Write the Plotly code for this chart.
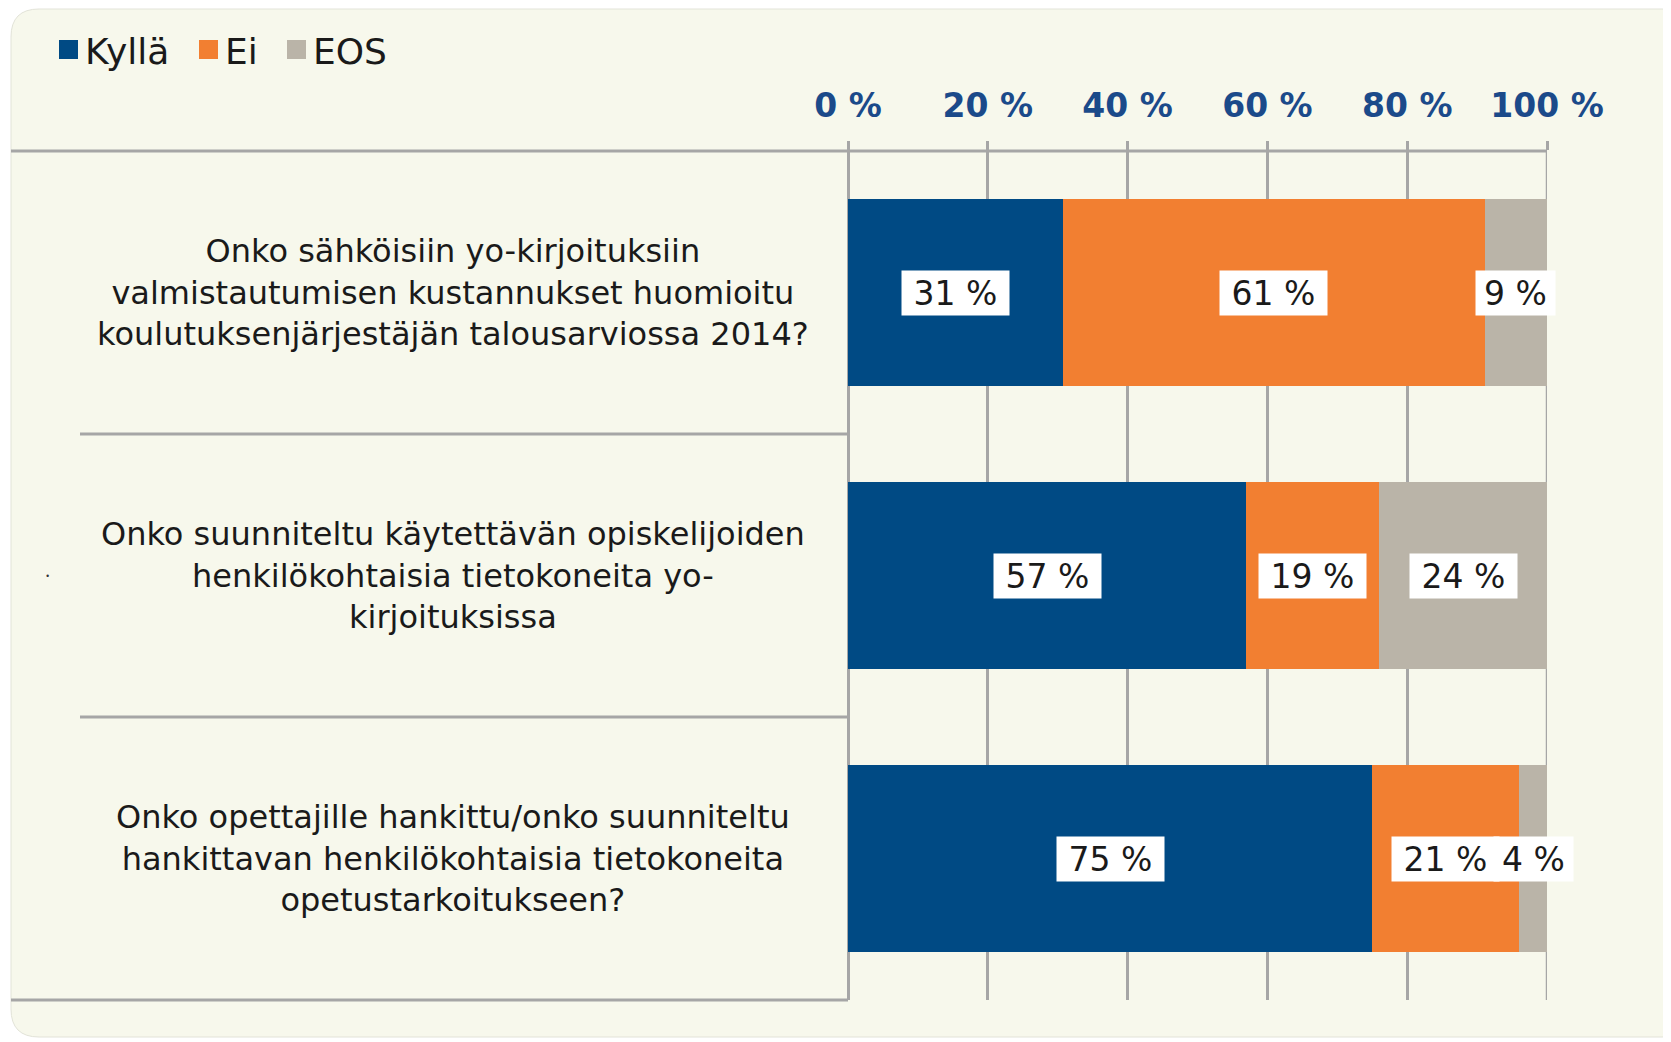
import plotly.graph_objects as go

# Survey answers, percent
questions = [
    "Onko sähköisiin yo-kirjoituksiin<br>valmistautumisen kustannukset huomioitu<br>koulutuksenjärjestäjän talousarviossa 2014?",
    "Onko suunniteltu käytettävän opiskelijoiden<br>henkilökohtaisia tietokoneita yo-<br>kirjoituksissa",
    "Onko opettajille hankittu/onko suunniteltu<br>hankittavan henkilökohtaisia tietokoneita<br>opetustarkoitukseen?",
]
kylla = [31, 57, 75]
ei = [61, 19, 21]
eos = [9, 24, 4]
series_names = ["Kyllä", "Ei", "EOS"]
colors = ["#004A84", "#F27F31", "#BAB4A8"]
tick_vals = [0, 20, 40, 60, 80, 100]

FONT = "Verdana, DejaVu Sans"
W_FIG, H_FIG = 1671, 1042
OFF = 8  # page body margin
# plot area in figure pixels
L, R, T, B = 840, 1539, 143, 992
PW, PH = R - L, B - T


def px_x(p):
    # p is a screen x position
    return (p - OFF - L) / PW


def px_y(p):
    return (B - (p - OFF)) / PH


series = [kylla, ei, eos]
fig = go.Figure()
for name, vals, col in zip(series_names, series, colors):
    fig.add_trace(go.Bar(
        y=list(range(len(questions))), x=vals, name=name, orientation="h",
        marker=dict(color=col, line=dict(width=0)), showlegend=False,
    ))

# value labels in white boxes, centred in each segment
annotations = []
for i in range(len(questions)):
    total = sum(s[i] for s in series)
    cum = 0
    for s in series:
        v = s[i]
        mid = (cum + v / 2) / total * 100
        cum += v
        txt = f"{v} %"
        annotations.append(dict(
            x=mid, y=i, xref="x", yref="y", text=txt, showarrow=False,
            font=dict(family=FONT, size=33, color="#1A1A1A"),
            bgcolor="white", width=28 * len(txt) - 11, height=38, borderpad=3,
        ))

# category labels in the left panel
for i, q in enumerate(questions):
    annotations.append(dict(
        x=px_x(453), y=i, xref="paper", yref="y", text=q, showarrow=False,
        align="center", xanchor="center", yanchor="middle",
        font=dict(family=FONT, size=32, color="#1A1A1A"),
    ))

# legend drawn by hand
shapes = []
leg_x = [59, 199, 287]
for name, col, lx in zip(series_names, colors, leg_x):
    shapes.append(dict(type="rect", xref="paper", yref="paper",
                       x0=px_x(lx), x1=px_x(lx + 19), y0=px_y(59), y1=px_y(40),
                       fillcolor=col, line=dict(width=0)))
    annotations.append(dict(
        x=px_x(lx + 24), y=px_y(51), xref="paper", yref="paper", text=name,
        showarrow=False, xanchor="left", yanchor="middle",
        font=dict(family=FONT, size=36, color="#1A1A1A"),
    ))

annotations.append(dict(x=px_x(43), y=1, xref="paper", yref="y", text="·",
                        showarrow=False, font=dict(size=20, color="#333")))

# rounded card background
x0, x1, yt, yb = px_x(11), px_x(1690), px_y(9), px_y(1037)
rx, ry = 28 / PW, 28 / PH
card = (f"M{x0+rx},{yt} L{x1-rx},{yt} Q{x1},{yt} {x1},{yt-ry} "
        f"L{x1},{yb+ry} Q{x1},{yb} {x1-rx},{yb} L{x0+rx},{yb} "
        f"Q{x0},{yb} {x0},{yb+ry} L{x0},{yt-ry} Q{x0},{yt} {x0+rx},{yt} Z")
shapes.insert(0, dict(type="path", path=card, xref="paper", yref="paper",
                      fillcolor="#F7F8EC", line=dict(color="#E2E3D8", width=1),
                      layer="below"))

line_col = "#A6A6A6"
# top line across, separators, bottom line, 100 % gridline
shapes.append(dict(type="line", xref="paper", yref="paper", x0=x0, x1=1, y0=1, y1=1,
                   line=dict(color=line_col, width=3)))
for yv in [0.5, 1.5]:
    shapes.append(dict(type="line", xref="paper", yref="y", x0=px_x(80), x1=0,
                       y0=yv, y1=yv, line=dict(color=line_col, width=3)))
shapes.append(dict(type="line", xref="paper", yref="paper", x0=x0, x1=0, y0=0, y1=0,
                   line=dict(color=line_col, width=3)))
shapes.append(dict(type="line", xref="x", yref="paper", x0=100, x1=100, y0=0, y1=1,
                   line=dict(color=line_col, width=2.5), layer="below"))

fig.update_layout(
    width=W_FIG, height=H_FIG,
    margin=dict(l=L, r=W_FIG - R, t=T, b=H_FIG - B),
    paper_bgcolor="white", plot_bgcolor="rgba(0,0,0,0)",
    barmode="stack", barnorm="percent", bargap=0.34,
    annotations=annotations, shapes=shapes,
    xaxis=dict(side="top", range=[0, 100], tickvals=tick_vals,
               ticktext=[f"{t} %" for t in tick_vals],
               tickfont=dict(family=FONT, size=33, color="#1B4A8A", weight="bold"),
               showgrid=True, gridcolor=line_col, gridwidth=2.5,
               zeroline=True, zerolinecolor=line_col, zerolinewidth=2.5,
               ticks="outside", ticklen=9, tickcolor=line_col, tickwidth=2.5,
               ticklabelstandoff=11, showline=False),
    yaxis=dict(range=[2.5, -0.5], showticklabels=False, showgrid=False,
               zeroline=False, showline=False),
)

fig.write_html("out.html")
